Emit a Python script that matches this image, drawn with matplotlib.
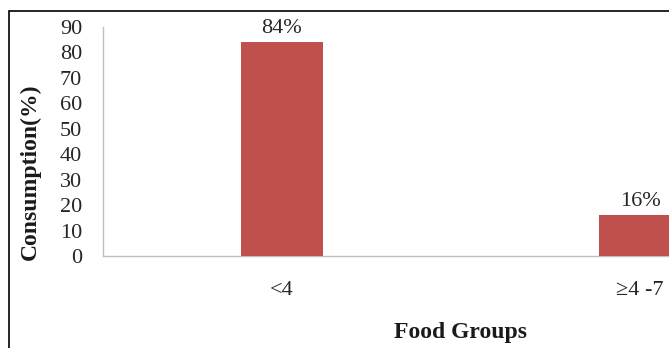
import matplotlib
matplotlib.use("Agg")
import matplotlib.pyplot as plt
from matplotlib.patches import Rectangle

categories = ["<4", "≥4 -7"]
values = [84, 16]
labels = ["84%", "16%"]
yticks = list(range(0, 91, 10))

plt.rcParams['font.family'] = ['Liberation Serif', 'DejaVu Serif']

W, H = 669, 348
fig = plt.figure(figsize=(W/100, H/100), dpi=100)
left_px, right_px = 103, 819
bottom_px, top_px = 256, 27
ax = fig.add_axes([left_px/W, (H-bottom_px)/H, (right_px-left_px)/W, (bottom_px-top_px)/H])

x = range(len(categories))
ax.bar(x, values, width=0.229, color='#C0504D', zorder=3)
for xi, v, lab in zip(x, values, labels):
    ax.text(xi, v + 1.5, lab, ha='center', va='bottom', fontsize=16, color='#262626')

ax.set_xlim(-0.5, 1.5)
ax.set_ylim(0, 90)
ax.set_yticks(yticks)
ax.set_xticks(list(x))
ax.set_xticklabels(categories)
ax.tick_params(axis='both', length=0, labelsize=16, colors='#262626')
ax.tick_params(axis='x', pad=18)
ax.tick_params(axis='y', pad=15)
for s in ['top', 'right']:
    ax.spines[s].set_visible(False)
for s in ['left', 'bottom']:
    ax.spines[s].set_color('#BFBFBF')
    ax.spines[s].set_linewidth(1.0)

ax.set_ylabel("Consumption(%)", fontsize=17, fontweight='bold', color='#1a1a1a', va='center')
ax.yaxis.set_label_coords(-0.102, 0.367)
ax.set_xlabel("Food Groups", fontsize=17, fontweight='bold', color='#1a1a1a', va='center')
ax.xaxis.set_label_coords(0.5, -0.332)

fig.patches.append(Rectangle((9/W, -0.1), 2, (H-11)/H + 0.1, transform=fig.transFigure,
                             fill=False, edgecolor='black', linewidth=1.2))

fig.savefig("out.png", dpi=100)
